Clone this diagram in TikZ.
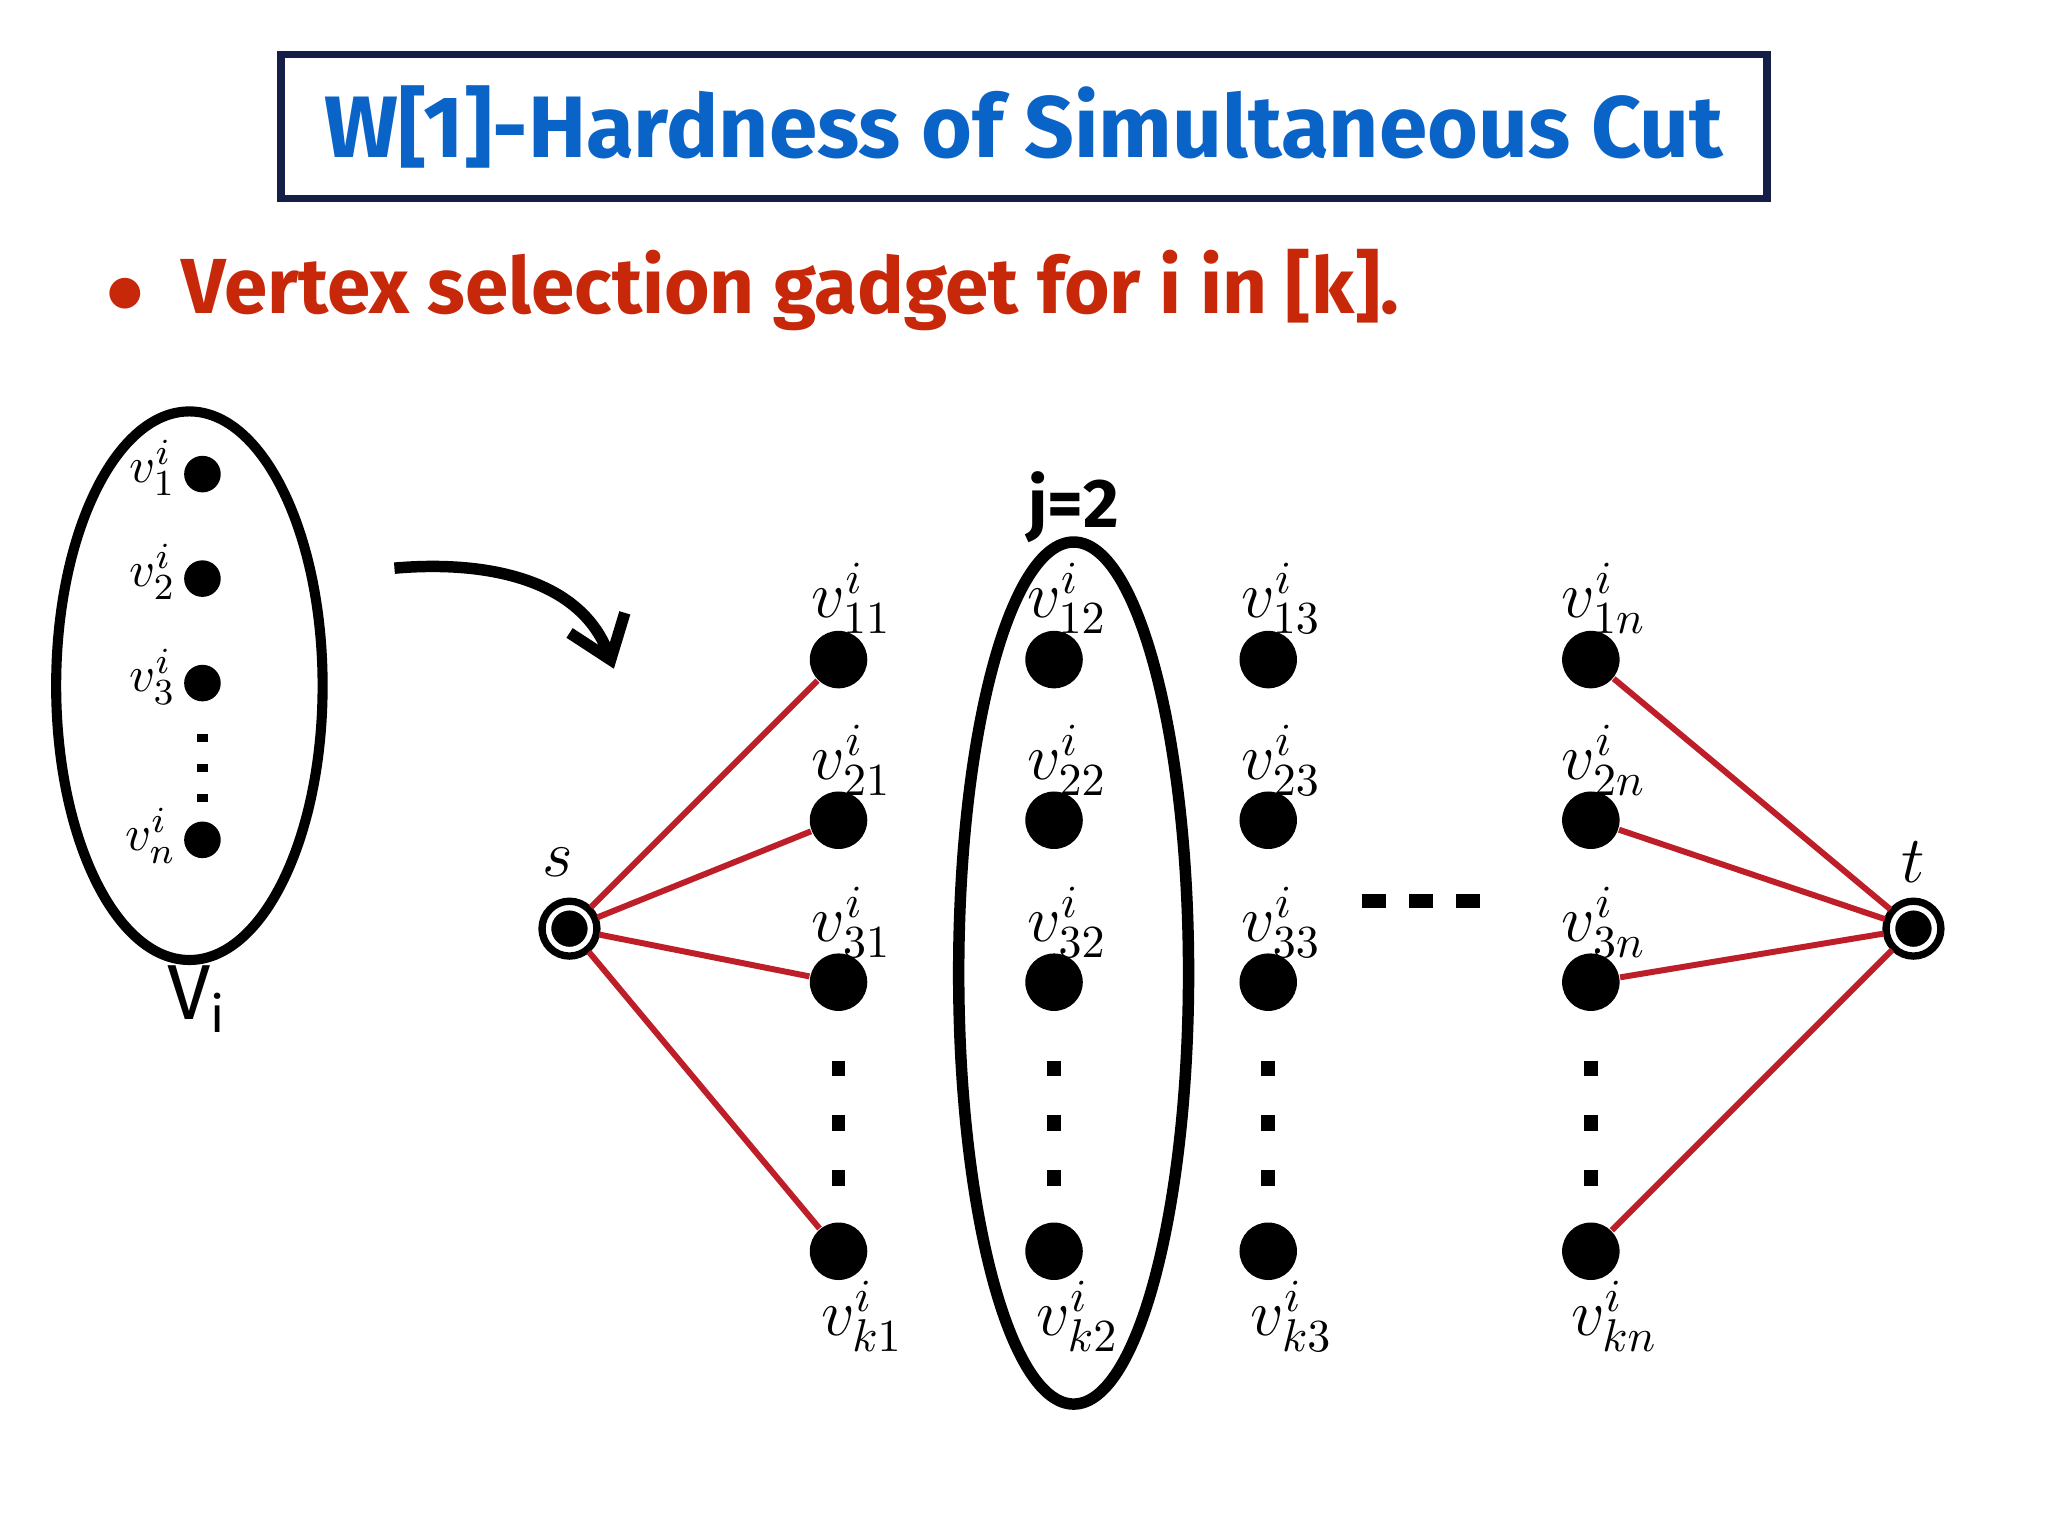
\documentclass[tikz,border=0pt]{standalone}
\usepackage{fontspec}
\setsansfont{Fira Sans}
\usetikzlibrary{arrows.meta}
\definecolor{tblue}{RGB}{10,100,200}
\definecolor{navy}{RGB}{20,30,70}
\definecolor{bred}{RGB}{200,40,10}
\definecolor{ered}{RGB}{190,30,40}
\tikzset{
 vtx/.style={circle,fill=black,inner sep=0pt,minimum size=0.44cm},
 svtx/.style={circle,fill=black,inner sep=0pt,minimum size=0.28cm},
 term/.style={circle,fill=black,draw=white,line width=1.2pt,double=black,double distance=1.6pt,inner sep=0pt,minimum size=0.42cm},
 lab/.style={font=\fontsize{14}{16}\selectfont},
 slab/.style={font=\fontsize{11}{13}\selectfont},
 edge/.style={ered,line width=1.3pt},
 vdots/.style={line width=3pt,dash pattern=on 0.12cm off 0.3cm}
}
\begin{document}
\begin{tikzpicture}[x=0.01cm,y=-0.01cm]
\useasboundingbox (0,0) rectangle (1568,1176);
\node[draw=navy,line width=1.6pt,minimum width=11.37cm,minimum height=1.1cm,text=tblue,font=\sffamily\bfseries\fontsize{19}{22}\selectfont] (title) at (784,97) {W[1]-Hardness of Simultaneous Cut};
\node[anchor=west,text=bred,font=\sffamily\bfseries\fontsize{17}{20}\selectfont] (bul) at (68,222) {$\bullet$\ \ Vertex selection gadget for i in [k].};
% left ellipse
\draw[line width=2.2pt] (145,525) ellipse [x radius=102, y radius=210];
\node[svtx] (a1) at (155,363) {}; \node[slab,anchor=east] at (147,358) {$v^i_1$};
\node[svtx] (a2) at (155,443) {}; \node[slab,anchor=east] at (147,438) {$v^i_2$};
\node[svtx] (a3) at (155,523) {}; \node[slab,anchor=east] at (147,518) {$v^i_3$};
\node[svtx] (an) at (155,643) {}; \node[slab,anchor=east] at (147,640) {$v^i_n$};
\draw[line width=2.5pt,dash pattern=on 0.06cm off 0.17cm] (155,562) -- (155,618);
\node[font=\sffamily\fontsize{17}{19}\selectfont] (Vi) at (150,765) {V\raisebox{-3pt}{\fontsize{11}{12}\selectfont i}};
% arrow
\coordinate (c1) at (302,435); \coordinate (c2) at (470,512);
\draw[line width=2.5pt,-{Straight Barb[length=0.3cm,width=0.45cm]}] (c1) to[out=5,in=110] (c2);
% grid
\foreach \c/\x/\cl in {1/642/1,2/807/2,3/971/3,n/1218/n}{
  \foreach \r/\y/\rl in {1/505/1,2/628/2,3/752/3,k/958/k}{
    \node[vtx] (n\r\c) at (\x,\y) {};
  }
  \node[lab] at (\x+10,458) {$v^i_{1\cl}$};
  \node[lab] at (\x+10,582) {$v^i_{2\cl}$};
  \node[lab] at (\x+10,706) {$v^i_{3\cl}$};
  \node[lab] at (\x+18,1008) {$v^i_{k\cl}$};
  \draw[vdots] (\x,812) -- (\x,910);
}
\draw[line width=2.5pt] (822,745) ellipse [x radius=88, y radius=330];
\node[font=\sffamily\bfseries\fontsize{15}{17}\selectfont] (j2) at (822,388) {j=2};
\draw[line width=3pt,dash pattern=on 0.18cm off 0.18cm] (1043,690) -- (1140,690);
\node[term] (s) at (436,711) {}; \node[lab] at (427,660) {$s$};
\node[term] (t) at (1465,711) {}; \node[lab] at (1465,660) {$t$};
\foreach \r in {1,2,3,k}{
  \draw[edge] (s) -- (n\r1);
  \draw[edge] (t) -- (n\r n);
}
\end{tikzpicture}
\end{document}
